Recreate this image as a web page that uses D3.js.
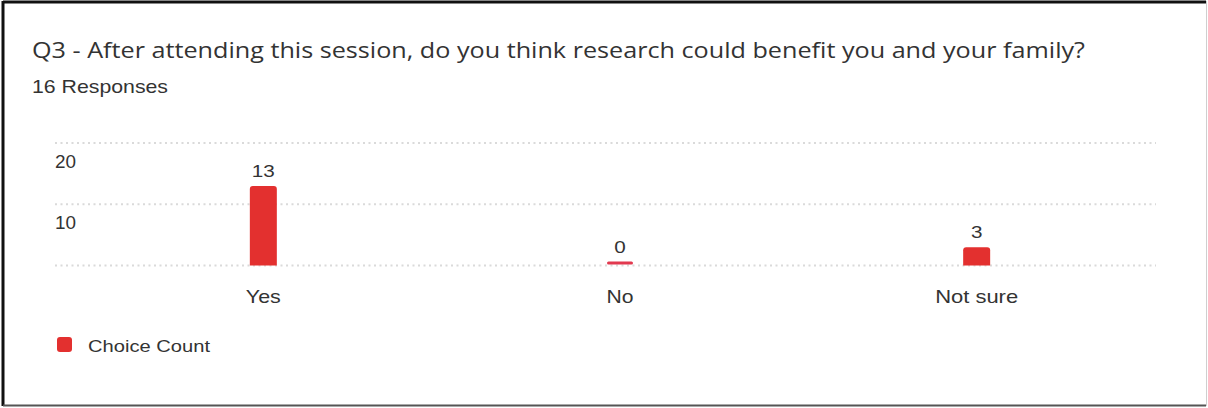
<!DOCTYPE html>
<html>
<head>
<meta charset="utf-8">
<script src="https://cdn.jsdelivr.net/npm/d3@7"></script>
<style>
  html, body { margin: 0; padding: 0; background: #fff; }
  svg { display: block; }
</style>
</head>
<body>
<svg id="chart" width="1208" height="408"></svg>
<script>
const title = "Q3 - After attending this session, do you think research could benefit you and your family?";
const subtitle = "16 Responses";
const categories = ["Yes", "No", "Not sure"];
const counts = [13, 0, 3];
const yTicks = [0, 10, 20];
const yTickLabels = ["", "10", "20"];
const seriesName = "Choice Count";

const barColor = "#e3302f";
const textColor = "#333333";

const svg = d3.select("#chart");

// frame
svg.append("rect").attr("x", 0).attr("y", 0).attr("width", 1208).attr("height", 408).attr("fill", "#fff");
svg.append("line").attr("x1", 3).attr("x2", 1206).attr("y1", 2).attr("y2", 2).attr("stroke", "#111").attr("stroke-width", 3);
svg.append("line").attr("x1", 3).attr("x2", 3).attr("y1", 1).attr("y2", 406).attr("stroke", "#111").attr("stroke-width", 3);
svg.append("line").attr("x1", 3).attr("x2", 1206).attr("y1", 405.5).attr("y2", 405.5).attr("stroke", "#555").attr("stroke-width", 2);
svg.append("line").attr("x1", 1206.5).attr("x2", 1206.5).attr("y1", 1).attr("y2", 406).attr("stroke", "#cfcfcf").attr("stroke-width", 1);

function stretchedText(g, txt, x, y, width, size, family, anchor) {
  const t = g.append("text")
    .attr("y", y)
    .attr("font-family", family)
    .attr("font-size", size)
    .attr("fill", textColor)
    .attr("textLength", width)
    .attr("lengthAdjust", "spacingAndGlyphs")
    .text(txt);
  if (anchor === "middle") t.attr("x", x - width / 2);
  else t.attr("x", x);
  return t;
}

stretchedText(svg, title, 32, 58, 1053, 22, "'Open Sans', 'Noto Sans', sans-serif");
stretchedText(svg, subtitle, 32, 93, 136, 19, "'Liberation Sans', Arial, sans-serif");

const x = d3.scaleBand().domain(categories).range([85, 1155]).paddingInner(0).paddingOuter(0);
const y = d3.scaleLinear().domain([0, 20]).range([265.5, 143]);

// grid
const gridG = svg.append("g");
yTicks.forEach(v => {
  gridG.append("line")
    .attr("x1", 55).attr("x2", 1156)
    .attr("y1", y(v)).attr("y2", y(v))
    .attr("stroke", "#dadada")
    .attr("stroke-width", 2)
    .attr("stroke-dasharray", "2,3.5");
});
yTicks.forEach((v, i) => {
  if (!yTickLabels[i]) return;
  stretchedText(svg, yTickLabels[i], 55, y(v) + 25, 21, 17.5, "'Liberation Sans', Arial, sans-serif");
});

const barW = 27;
const barsG = svg.append("g");
categories.forEach((c, i) => {
  const cx = x(c) + x.bandwidth() / 2;
  const v = counts[i];
  if (v > 0) {
    const top = y(v), bot = y(0);
    const r = 3;
    const x0 = cx - barW / 2, x1 = cx + barW / 2;
    barsG.append("path")
      .attr("d", `M${x0},${bot} L${x0},${top + r} Q${x0},${top} ${x0 + r},${top} L${x1 - r},${top} Q${x1},${top} ${x1},${top + r} L${x1},${bot} Z`)
      .attr("fill", barColor);
  } else {
    barsG.append("rect")
      .attr("x", cx - 13).attr("y", y(0) - 4).attr("width", 26).attr("height", 3)
      .attr("rx", 1.5)
      .attr("fill", "#e2394f");
  }
  const lw = String(v).length * 11.5;
  stretchedText(svg, String(v), cx, (v > 0 ? y(v) : y(0) - 4) - 9, lw, 17, "'Liberation Sans', Arial, sans-serif", "middle");
});

// x labels
const xLabelW = { "Yes": 35, "No": 27, "Not sure": 83 };
categories.forEach(c => {
  const cx = x(c) + x.bandwidth() / 2;
  stretchedText(svg, c, cx, 303, xLabelW[c], 18.5, "'Liberation Sans', Arial, sans-serif", "middle");
});

// legend
svg.append("rect").attr("x", 57).attr("y", 337).attr("width", 15).attr("height", 15).attr("rx", 3).attr("fill", barColor);
stretchedText(svg, seriesName, 88, 352, 122, 16.5, "'Liberation Sans', Arial, sans-serif");
</script>
</body>
</html>
